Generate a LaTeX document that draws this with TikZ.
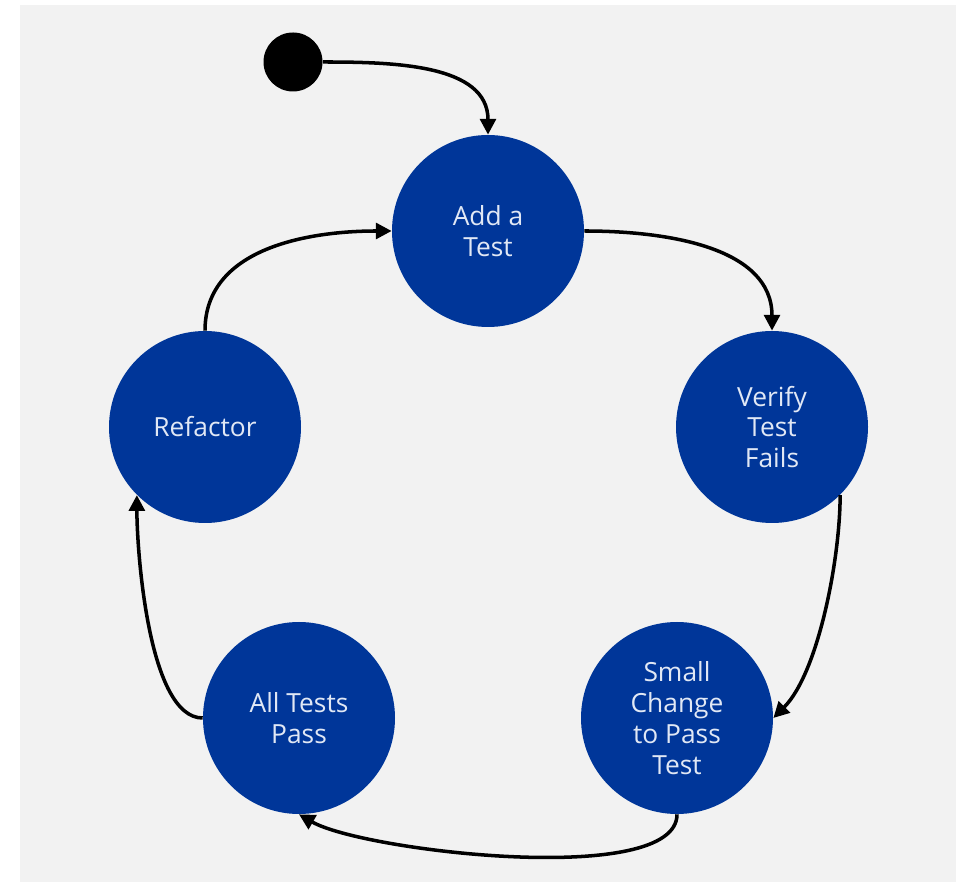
\documentclass[tikz,border=0pt]{standalone}
\usepackage{fontspec}
\setmainfont{Open Sans}
\usetikzlibrary{positioning, arrows.meta}

\definecolor{stateblue}{RGB}{0,54,153}
\definecolor{bggray}{RGB}{242,242,242}
\definecolor{lighttext}{RGB}{225,232,245}

\tikzset{
    state/.style={circle, fill=stateblue, minimum size=3.84cm, inner sep=0pt,
        text=lighttext, align=center, font=\fontsize{15}{17.6}\selectfont},
    startdot/.style={circle, fill=black, minimum size=1.18cm, inner sep=0pt},
    flow/.style={-{Triangle[length=9pt,width=9pt]}, line width=2pt},
}

\begin{document}
\begin{tikzpicture}

    \useasboundingbox (0,0) rectangle (19.14,17.64);
    \fill[bggray] (0.4,0) rectangle (19.12,17.54);

    \node[startdot] (start) at (5.86,16.40) {};

    \node[state] (add) at (9.76,13.02) {Add a\\Test};
    \node[state] (verify) at (15.44,9.10) {Verify\\Test\\Fails};
    \node[state] (change) at (13.54,3.28) {Small\\Change\\to Pass\\Test};
    \node[state] (pass) at (5.98,3.28) {All Tests\\Pass};
    \node[state] (refactor) at (4.10,9.10) {Refactor};

    \draw[flow] (start.east) to[out=0, in=90] (add.north);
    \draw[flow] (add.east) to[out=0, in=90] (verify.north);
    \draw[flow] (verify.-45) to[out=-90, in=45, looseness=0.7] (change.east);
    \draw[flow] (change.south) to[out=-90, in=-30, looseness=0.5] (pass.south);
    \draw[flow] (pass.west) to[out=180, in=-90, looseness=0.6] (refactor.-135);
    \draw[flow] (refactor.north) to[out=90, in=180] (add.west);

  \end{tikzpicture}
\end{document}
